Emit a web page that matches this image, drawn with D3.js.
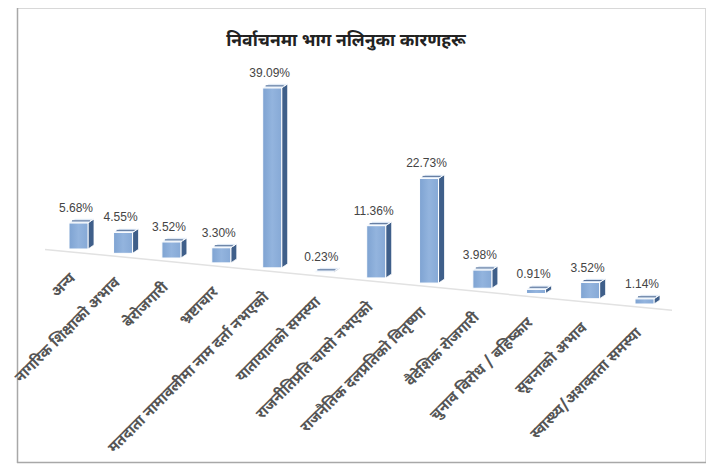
<!DOCTYPE html>
<html><head><meta charset="utf-8">
<script src="https://cdn.jsdelivr.net/npm/d3@7"></script>
<style>
html,body{margin:0;padding:0;background:#fff;}
svg{display:block;}
</style></head>
<body>
<svg id="c" width="718" height="475"></svg>
<script>
const title = "निर्वाचनमा भाग नलिनुका कारणहरू";
const categories = [
  "अन्य",
  "नागरिक शिक्षाको अभाव",
  "बेरोजगारी",
  "भ्रष्टाचार",
  "मतदाता नामावलीमा नाम दर्ता नभएको",
  "यातायातको समस्या",
  "राजनीतिप्रति चासो नभएको",
  "राजनैतिक दलप्रतिको वितृष्णा",
  "वैदेशिक रोजगारी",
  "चुनाव विरोध / बहिष्कार",
  "सूचनाको अभाव",
  "स्वास्थ्य/अशक्तता समस्या"
];
const values = [5.68, 4.55, 3.52, 3.30, 39.09, 0.23, 11.36, 22.73, 3.98, 0.91, 3.52, 1.14];
const valueLabels = ["5.68%","4.55%","3.52%","3.30%","39.09%","0.23%","11.36%","22.73%","3.98%","0.91%","3.52%","1.14%"];

const svg = d3.select("#c");

// frame
svg.append("rect").attr("x",17.5).attr("y",8.5).attr("width",688).attr("height",454)
  .attr("fill","#fff").attr("stroke","#d8d8d8").attr("stroke-width",1);
svg.append("line").attr("x1",17.5).attr("x2",17.5).attr("y1",8).attr("y2",463).attr("stroke","#a8a8a8").attr("stroke-width",1.5);
svg.append("line").attr("x1",17).attr("x2",706).attr("y1",462.5).attr("y2",462.5).attr("stroke","#a8a8a8").attr("stroke-width",1.5);

const defs = svg.append("defs");
const g1 = defs.append("linearGradient").attr("id","front").attr("x1","0").attr("x2","1").attr("y1","0").attr("y2","0");
g1.append("stop").attr("offset","0").attr("stop-color","#7ea3d2");
g1.append("stop").attr("offset","0.5").attr("stop-color","#93b4de");
g1.append("stop").attr("offset","1").attr("stop-color","#86a9d6");

const n = categories.length;
const xPos = d3.scalePow().exponent(1.06).domain([0, n-1]).range([82, 648]);
const baseY = d3.scaleLinear().domain([82, 648]).range([249, 304]);
const hScale = d3.scaleLinear().domain([0, 39.09]).range([0, 180]);

// floor line
const fx0 = 45, fx1 = 672;
svg.append("line").attr("x1",fx0).attr("x2",fx1)
  .attr("y1",baseY(fx0)+4).attr("y2",baseY(fx1)+4)
  .attr("stroke","#e2e2e2").attr("stroke-width",1.5);

const font = "'Noto Sans Devanagari','Noto Sans','Lohit Devanagari','FreeSans',sans-serif";

// title
svg.append("text").attr("x",346).attr("y",46).attr("text-anchor","middle")
  .attr("font-family",font).attr("font-weight","bold").attr("font-size",17.5)
  .attr("fill","#222").text(title);

const dx = 6, dy = 4, fw = 19;
const bars = svg.append("g");
categories.forEach((c,i) => {
  const cx = xPos(i);
  const b = baseY(cx);
  const h = Math.max(hScale(values[i]), 1);
  const l = cx - 13, r = l + fw, t = b - h;
  const g = bars.append("g");
  g.append("path").attr("d",`M${r},${t} L${r+dx},${t-dy} L${r+dx},${b-dy} L${r},${b} Z`)
    .attr("fill","#3f5f8a").attr("stroke","#fff").attr("stroke-width",0.8);
  g.append("rect").attr("x",l).attr("y",t).attr("width",fw).attr("height",h)
    .attr("fill","url(#front)").attr("stroke","#fff").attr("stroke-width",1);
  g.append("path").attr("d",`M${l},${t} L${r},${t} L${r+dx},${t-dy} L${l+dx},${t-dy} Z`)
    .attr("fill","#d5e2f2").attr("stroke","#fff").attr("stroke-width",0.8);
  g.append("line").attr("x1",l+3).attr("x2",r+2).attr("y1",t-2).attr("y2",t-2)
    .attr("stroke","#5a7399").attr("stroke-width",1);
  svg.append("text").attr("x",cx-6).attr("y",t-11).attr("text-anchor","middle")
    .attr("font-family","'Liberation Sans',Arial,sans-serif").attr("font-size",12)
    .attr("fill","#444").text(valueLabels[i]);
  const lx = cx - 6, ly = b + 30;
  svg.append("text").attr("transform",`translate(${lx},${ly}) rotate(-45)`)
    .attr("text-anchor","end").attr("font-family",font).attr("font-weight","bold")
    .attr("font-size",15).attr("fill","#555").text(c);
});
</script>
</body></html>
